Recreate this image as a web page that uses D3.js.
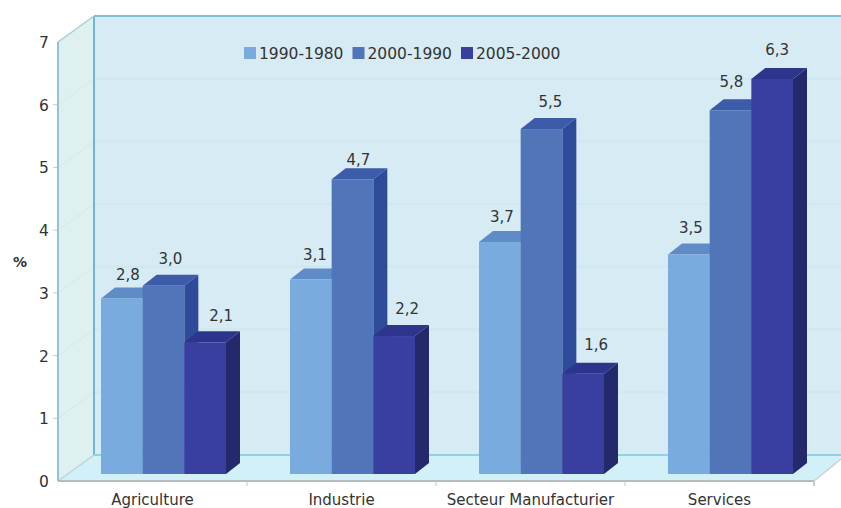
<!DOCTYPE html>
<html><head><meta charset="utf-8">
<script src="https://cdn.jsdelivr.net/npm/d3@7"></script>
<style>html,body{margin:0;background:#fff}svg{display:block}text{font-family:"DejaVu Sans",Verdana,sans-serif;fill:#333}</style>
</head><body><svg id="c" width="841" height="508"></svg>
<script>
const categories=["Agriculture","Industrie","Secteur Manufacturier","Services"];
const seriesNames=["1990-1980","2000-1990","2005-2000"];
const v1980=[2.8,3.1,3.7,3.5];
const v1990=[3.0,4.7,5.5,5.8];
const v2000=[2.1,2.2,1.6,6.3];
const yTicks=[0,1,2,3,4,5,6,7];
const frontColors=["#7aabde","#5075b9","#393f9e"];
const topColors=["#5f8cc6","#3c5ba8","#2d348c"];
const sideColors=["#4f72b4","#2f4a98","#24296c"];

const svg=d3.select("#c");
const series=[v1980,v1990,v2000];
const x=d3.scaleBand().domain(categories).range([58,814]);
const y=d3.scaleLinear().domain([0,7]).range([481,42]);
const inner=d3.scaleBand().domain(d3.range(3)).range([0,125]);
const W=841, dx=36, dy=26;       // wall depth
const bx=43, by=7;               // bar set depth on floor
const sx=14, sy=11;              // bar depth
// label placement tweaks per category / series
const nudgeX=[[0,1,10],[-2,0,7],[-4,3,7],[-4,-5,-1]];
const nudgeY=[[-2,-6,-5],[-4,2,-6],[-4,-6,-8],[-6,-7,-8]];
const L=x.range()[0], R=x.range()[1];
const poly=(pts,f,s)=>svg.append("polygon").attr("points",pts.map(p=>p.join(",")).join(" ")).attr("fill",f).attr("stroke",s||"none");

// walls and floor
poly([[L+dx,y(7)-dy],[W,y(7)-dy],[W,y(0)-dy],[L+dx,y(0)-dy]],"#d6ebf3");
poly([[L,y(7)],[L+dx,y(7)-dy],[L+dx,y(0)-dy],[L,y(0)]],"#dff0f1");
poly([[L,y(0)],[L+dx,y(0)-dy],[W,y(0)-dy],[W,y(0)-22],[R,y(0)]],"#d2f0f7");
// grid
yTicks.slice(1,-1).forEach(t=>{
  svg.append("line").attr("x1",L+dx).attr("x2",W).attr("y1",y(t)-dy).attr("y2",y(t)-dy).attr("stroke","#cde8ee").attr("stroke-width",2);
  svg.append("line").attr("x1",L).attr("x2",L+dx).attr("y1",y(t)).attr("y2",y(t)-dy).attr("stroke","#d6e9ea");
  svg.append("line").attr("x1",L-5).attr("x2",L).attr("y1",y(t)).attr("y2",y(t)).attr("stroke","#c4ccd0");
});
const edge=(a,b,c,d,col,w)=>svg.append("line").attr("x1",a).attr("y1",b).attr("x2",c).attr("y2",d).attr("stroke",col).attr("stroke-width",w||1.5);
edge(L+dx,y(7)-dy,W,y(7)-dy,"#7fc0cc",2);
edge(L+dx,y(7)-dy,L+dx,y(0)-dy,"#6fb4d2",2);
edge(L,y(7),L,y(0),"#93c3cc",2);
edge(L,y(7),L+dx,y(7)-dy,"#a9ccd6");
edge(L,y(0),L+dx,y(0)-dy,"#b5d6dc");
edge(L+dx,y(0)-dy,W,y(0)-dy,"#8fd2e8",2);
edge(L,y(0),R,y(0),"#b4bcbc",2);
edge(R,y(0),W,y(0)-22,"#c8d4d4");
edge(R,y(0),R,y(0)+5,"#c4c4c4");
categories.forEach(c=>edge(x(c)+x.bandwidth(),y(0),x(c)+x.bandwidth(),y(0)+5,"#c4c4c4",1));

// bars
const h=t=>y(t)-by;
categories.forEach((c,i)=>{
  const x0=x(c)+bx;
  series.forEach((s,k)=>{
    const a=x0+inner(k), b=a+inner.bandwidth(), v=s[i];
    poly([[b,h(v)],[b+sx,h(v)-sy],[b+sx,h(0)-sy],[b,h(0)]],sideColors[k]);
    poly([[a,h(v)],[a+sx,h(v)-sy],[b+sx,h(v)-sy],[b,h(v)]],topColors[k]);
    svg.append("rect").attr("x",a).attr("y",h(v)).attr("width",b-a).attr("height",h(0)-h(v)).attr("fill",frontColors[k]);
  });
});
categories.forEach((c,i)=>{
  const x0=x(c)+bx;
  series.forEach((s,k)=>{
    const v=s[i];
    svg.append("text").attr("x",x0+inner(k)+inner.bandwidth()/2+6+nudgeX[i][k]).attr("y",h(v)-16+nudgeY[i][k])
      .attr("text-anchor","middle").attr("font-size",15).text(d3.format(".1f")(v).replace(".",","));
  });
});
// axes text
yTicks.forEach(t=>svg.append("text").attr("x",44).attr("y",y(t)+6).attr("text-anchor","middle").attr("font-size",15.5).text(t));
svg.append("text").attr("x",20).attr("y",267).attr("text-anchor","middle").attr("font-size",14).attr("font-weight","bold").text("%");
categories.forEach(c=>svg.append("text").attr("x",x(c)+x.bandwidth()/2).attr("y",505).attr("text-anchor","middle").attr("font-size",15).text(c));
// legend
const lx=d3.scalePoint().domain(seriesNames).range([244,461]);
seriesNames.forEach((n,k)=>{
  svg.append("rect").attr("x",lx(n)).attr("y",47).attr("width",12).attr("height",12).attr("fill",frontColors[k]);
  svg.append("text").attr("x",lx(n)+15).attr("y",59).attr("font-size",15.5).text(n);
});
</script></body></html>
